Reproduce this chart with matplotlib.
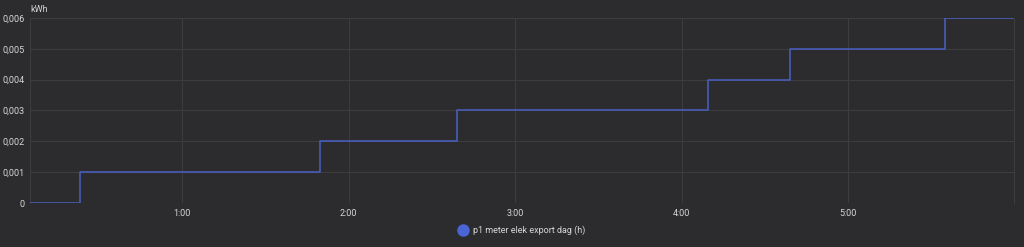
import matplotlib
matplotlib.use("Agg")
import matplotlib.pyplot as plt
from matplotlib.ticker import FuncFormatter, FixedLocator
from matplotlib.lines import Line2D

# data: time in hours, cumulative kWh (step after)
times = [0.087, 0.387, 1.829, 2.652, 4.159, 4.652, 5.583, 5.997]
values = [0.0, 0.001, 0.002, 0.003, 0.004, 0.005, 0.006, 0.006]
xticks = [1, 2, 3, 4, 5]
yticks = [0, 0.001, 0.002, 0.003, 0.004, 0.005, 0.006]
series_name = "p1 meter elek export dag (h)"
unit = "kWh"

bg = "#2c2c2e"
grid = "#3d3d40"
txt = "#d6d6d6"
line_c = "#4a60c4"

plt.rcParams['font.family'] = ['Roboto', 'DejaVu Sans']

fig = plt.figure(figsize=(10.24, 2.47), dpi=100, facecolor=bg)
ax = fig.add_axes([30/1024, 1-203/247, 984/1024, 185/247])
ax.set_facecolor(bg)

ax.step(times, values, where='post', color=line_c, lw=1.1, zorder=3)

ax.set_xlim(times[0], times[-1])
ax.set_ylim(0, 0.006)
ax.xaxis.set_major_locator(FixedLocator(xticks))
ax.yaxis.set_major_locator(FixedLocator(yticks))
ax.xaxis.set_major_formatter(FuncFormatter(lambda v, p: f"{int(v)}:00"))
ax.yaxis.set_major_formatter(FuncFormatter(lambda v, p: "0" if v == 0 else f"{v:.3f}".replace('.', ',')))

ax.grid(True, color=grid, lw=0.8, zorder=0)
for s in ['top', 'bottom']:
    ax.spines[s].set_visible(False)
for s in ['left', 'right']:
    ax.spines[s].set_color(grid)
    ax.spines[s].set_linewidth(0.8)
ax.tick_params(axis='both', length=0, labelsize=6.5, colors=txt)
ax.tick_params(axis='y', pad=4)
ax.tick_params(axis='x', pad=4)

fig.text(30/1024, 1-9/247, unit, color=txt, fontsize=6.5, ha='left', va='center')

handle = Line2D([], [], marker='o', ls='none', markersize=8, markerfacecolor="#4a66d6",
                markeredgecolor="#4a66d6")
leg = fig.legend([handle], [series_name], loc='center', bbox_to_anchor=(520/1024, 1-230/247),
                 frameon=False, fontsize=6.5, handletextpad=0.1, labelcolor=txt)

fig.savefig("out.png", dpi=100, facecolor=bg)
